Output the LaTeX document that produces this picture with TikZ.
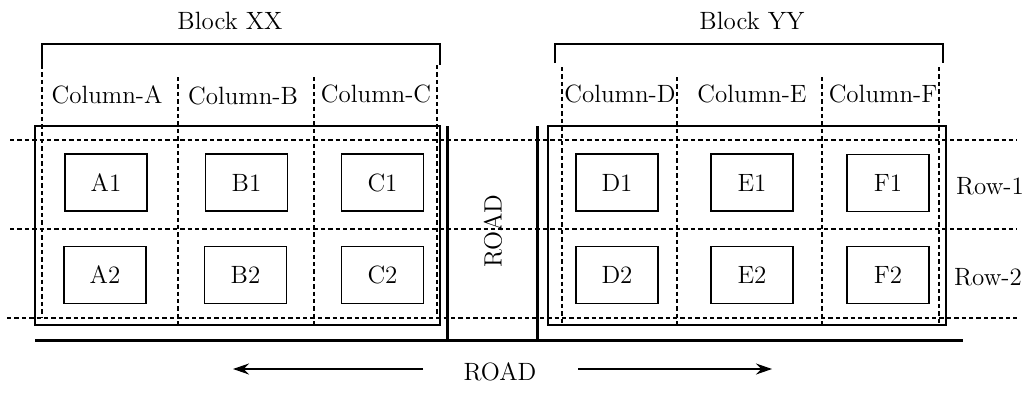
\documentclass[tikz,border=0pt]{standalone}
\usetikzlibrary{arrows.meta}
\begin{document}
\begin{tikzpicture}[x=0.5pt,y=-0.5pt,
  every node/.style={font=\fontsize{12.5}{14}\selectfont, inner sep=0pt},
  lot/.style={draw, line width=0.6pt, minimum width=41pt, minimum height=28.5pt},
  grid/.style={dashed, dash pattern=on 2.2pt off 1.5pt, line width=0.55pt},
  thin/.style={line width=0.6pt},
  road/.style={line width=1.5pt},
  dir/.style={line width=0.6pt, -{Stealth[length=8pt,width=5.5pt]}}]
\useasboundingbox (0,0) rectangle (1034,397);

% block outlines
\draw[thin] (35,126) rectangle (440,325);
\draw[thin] (548,126) rectangle (946,325);

% block brackets
\draw[thin] (42,65) -- (42,44) -- (440,44) -- (440,65);
\draw[thin] (555,63) -- (555,44) -- (943,44) -- (943,63);

% column separators
\draw[grid] (42,65) -- (42,318);
\draw[grid] (178,77) -- (178,325);
\draw[grid] (314,77) -- (314,325);
\draw[grid] (437,65) -- (437,318);
\draw[grid] (562,67) -- (562,325);
\draw[grid] (677,77) -- (677,325);
\draw[grid] (822,77) -- (822,325);
\draw[grid] (939,67) -- (939,325);

% row separators
\draw[grid] (10,140) -- (1017,140);
\draw[grid] (10,229) -- (1017,229);
\draw[grid] (7,318) -- (1017,318);

% roads
\draw[road] (447,126) -- (447,340);
\draw[road] (537,126) -- (537,340);
\draw[road] (35,340) -- (963,340);

% lots
\node[lot] (A1) at (106,182.5) {A1};
\node[lot] (B1) at (246.5,182.5) {B1};
\node[lot] (C1) at (382.5,182.5) {C1};
\node[lot] (D1) at (617,182.5) {D1};
\node[lot] (E1) at (752,182.5) {E1};
\node[lot] (F1) at (888,183) {F1};
\node[lot] (A2) at (105,275) {A2};
\node[lot] (B2) at (245.5,275) {B2};
\node[lot] (C2) at (382.5,275) {C2};
\node[lot] (D2) at (617,275) {D2};
\node[lot] (E2) at (752,275) {E2};
\node[lot] (F2) at (888,275) {F2};

% labels
\node (blockXX) at (230,21) {Block XX};
\node (blockYY) at (752,21) {Block YY};
\node (colA) at (107,95) {Column-A};
\node (colB) at (243,96) {Column-B};
\node (colC) at (376,94) {Column-C};
\node (colD) at (620,94) {Column-D};
\node (colE) at (752,94) {Column-E};
\node (colF) at (883,94) {Column-F};
\node (row1) at (990,186) {Row-1};
\node (row2) at (988,277) {Row-2};
\node[rotate=90] (roadV) at (493,231) {ROAD};
\node (roadH) at (500,372) {ROAD};

% traffic directions
\coordinate (lStart) at (423,369);
\coordinate (lEnd) at (233,369);
\coordinate (rStart) at (578,369);
\coordinate (rEnd) at (772,369);
\draw[dir] (lStart) -- (lEnd);
\draw[dir] (rStart) -- (rEnd);
\end{tikzpicture}
\end{document}
